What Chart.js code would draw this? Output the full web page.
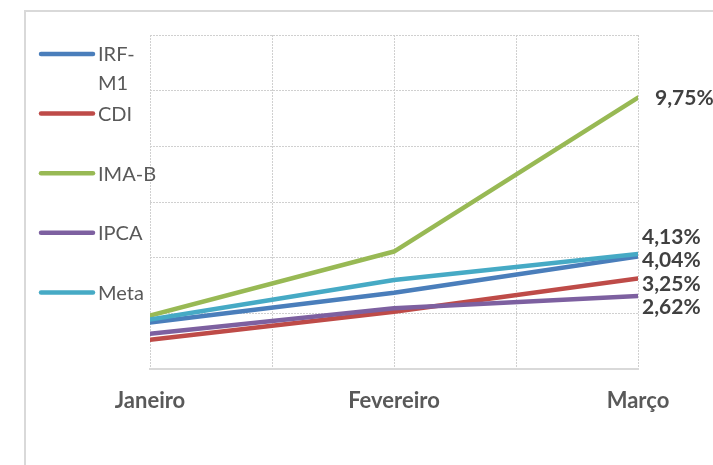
<!DOCTYPE html>
<html>
<head>
<meta charset="utf-8">
<script src="https://cdn.jsdelivr.net/npm/chart.js@4.4.1/dist/chart.umd.min.js"></script>
<style>
  html, body { margin: 0; padding: 0; background: #ffffff; }
  #wrap { width: 713px; height: 465px; position: relative; }
</style>
</head>
<body>
<div id="wrap"><canvas id="c"></canvas></div>
<script>
// ---- data ----
const categories = ['Janeiro', 'Fevereiro', 'Março'];
const seriesNames = ['IRF-M1', 'CDI', 'IMA-B', 'IPCA', 'Meta'];
const irfM1 = [1.67, 2.74, 4.04];
const cdi   = [1.05, 2.06, 3.25];
const imaB  = [1.92, 4.22, 9.75];
const ipca  = [1.27, 2.18, 2.62];
const meta  = [1.78, 3.20, 4.13];
const yTicks = [0, 2, 4, 6, 8, 10, 12];

const seriesValues = [irfM1, cdi, imaB, ipca, meta];
const seriesColors = ['#4A7EBB', '#BE4B48', '#98B954', '#7D60A0', '#46AAC5'];
const FONT = 'Lato, "Liberation Sans", sans-serif';

function fmt(v) { return v.toFixed(2).replace('.', ',') + '%'; }

const datasets = seriesNames.map((name, i) => ({
  label: name,
  data: seriesValues[i].map((v, k) => ({ x: k, y: v })),
  borderColor: seriesColors[i],
  backgroundColor: seriesColors[i],
  borderWidth: 4.5,
  pointRadius: 0,
  pointHoverRadius: 0,
  tension: 0,
  borderCapStyle: 'round',
  borderJoinStyle: 'round',
  fill: false,
  order: seriesNames.length - i
}));

// outer chart border
const framePlugin = {
  id: 'frame',
  beforeDraw(chart) {
    const ctx = chart.ctx;
    ctx.save();
    ctx.strokeStyle = '#D9D9D9';
    ctx.lineWidth = 2;
    ctx.strokeRect(25, 11, 760, 520);
    ctx.restore();
  }
};

// custom legend on the left
const legendPlugin = {
  id: 'leftLegend',
  afterDraw(chart) {
    const ctx = chart.ctx;
    ctx.save();
    ctx.font = '20px ' + FONT;
    ctx.fillStyle = '#595959';
    ctx.textBaseline = 'middle';
    ctx.textAlign = 'left';
    const maxW = 64;
    chart.data.datasets.forEach((ds, i) => {
      const y = 54 + i * 59.6;
      ctx.strokeStyle = ds.borderColor;
      ctx.lineWidth = 4.5;
      ctx.lineCap = 'round';
      ctx.beginPath();
      ctx.moveTo(41, y);
      ctx.lineTo(93, y);
      ctx.stroke();
      let lines = [ds.label];
      if (ctx.measureText(ds.label).width > maxW && ds.label.indexOf('-') > 0) {
        const p = ds.label.indexOf('-') + 1;
        lines = [ds.label.slice(0, p), ds.label.slice(p)];
      }
      lines.forEach((t, k) => ctx.fillText(t, 98, y + 1 + k * 29));
    });
    ctx.restore();
  }
};

// end-of-line value labels with simple overlap avoidance
const endLabelPlugin = {
  id: 'endLabels',
  afterDatasetsDraw(chart) {
    const ctx = chart.ctx;
    const items = [];
    chart.data.datasets.forEach((ds, i) => {
      const m = chart.getDatasetMeta(i);
      const last = m.data[m.data.length - 1];
      const vals = seriesValues[i];
      items.push({ x: last.x, y: last.y, text: fmt(vals[vals.length - 1]) });
    });
    const gap = 23.5;
    items.sort((a, b) => a.y - b.y);
    let groups = items.map(it => ({ items: [it], center: it.y }));
    let merged = true;
    while (merged) {
      merged = false;
      for (let i = 0; i < groups.length - 1; i++) {
        const a = groups[i], b = groups[i + 1];
        const aB = a.center + (a.items.length - 1) * gap / 2;
        const bT = b.center - (b.items.length - 1) * gap / 2;
        if (bT - aB < gap) {
          const its = a.items.concat(b.items);
          const c = its.reduce((s, it) => s + it.y, 0) / its.length;
          groups.splice(i, 2, { items: its, center: c });
          merged = true;
          break;
        }
      }
    }
    ctx.save();
    ctx.font = 'bold 21px ' + FONT;
    ctx.fillStyle = '#404040';
    ctx.textBaseline = 'middle';
    ctx.textAlign = 'left';
    groups.forEach(g => {
      const n = g.items.length;
      g.items.forEach((it, k) => {
        const ly = g.center + (k - (n - 1) / 2) * gap;
        const lx = it.x + (n > 1 ? 4 : 17);
        ctx.fillText(it.text, lx, ly + 1);
      });
    });
    ctx.restore();
  }
};

new Chart(document.getElementById('c'), {
  type: 'line',
  data: { datasets },
  options: {
    responsive: true,
    maintainAspectRatio: false,
    animation: false,
    events: [],
    layout: { padding: { left: 150, right: 75, top: 35, bottom: 0 } },
    plugins: { legend: { display: false }, tooltip: { enabled: false }, title: { display: false } },
    scales: {
      x: {
        type: 'linear',
        min: 0,
        max: categories.length - 1,
        afterBuildTicks(scale) {
          const t = [];
          for (let v = 0; v <= categories.length - 1; v += 0.5) t.push({ value: v });
          scale.ticks = t;
        },
        afterFit(scale) { scale.height = 96; },
        ticks: {
          autoSkip: false,
          maxRotation: 0,
          minRotation: 0,
          padding: 19,
          color: '#595959',
          font: { family: FONT, size: 22, weight: 'bold' },
          callback: (v) => Number.isInteger(v) ? categories[v] : ''
        },
        grid: { color: '#D0D0D0', lineWidth: 1, drawTicks: false },
        border: { display: true, color: '#D9D9D9', width: 2, dash: [2, 1] }
      },
      y: {
        min: yTicks[0],
        max: yTicks[yTicks.length - 1],
        afterBuildTicks(scale) { scale.ticks = yTicks.map(v => ({ value: v })); },
        afterFit(scale) { scale.width = 0; },
        ticks: { display: false },
        grid: { color: '#D0D0D0', lineWidth: 1, drawTicks: false },
        border: { display: false, dash: [2, 1] }
      }
    }
  },
  plugins: [framePlugin, legendPlugin, endLabelPlugin]
});
</script>
</body>
</html>
